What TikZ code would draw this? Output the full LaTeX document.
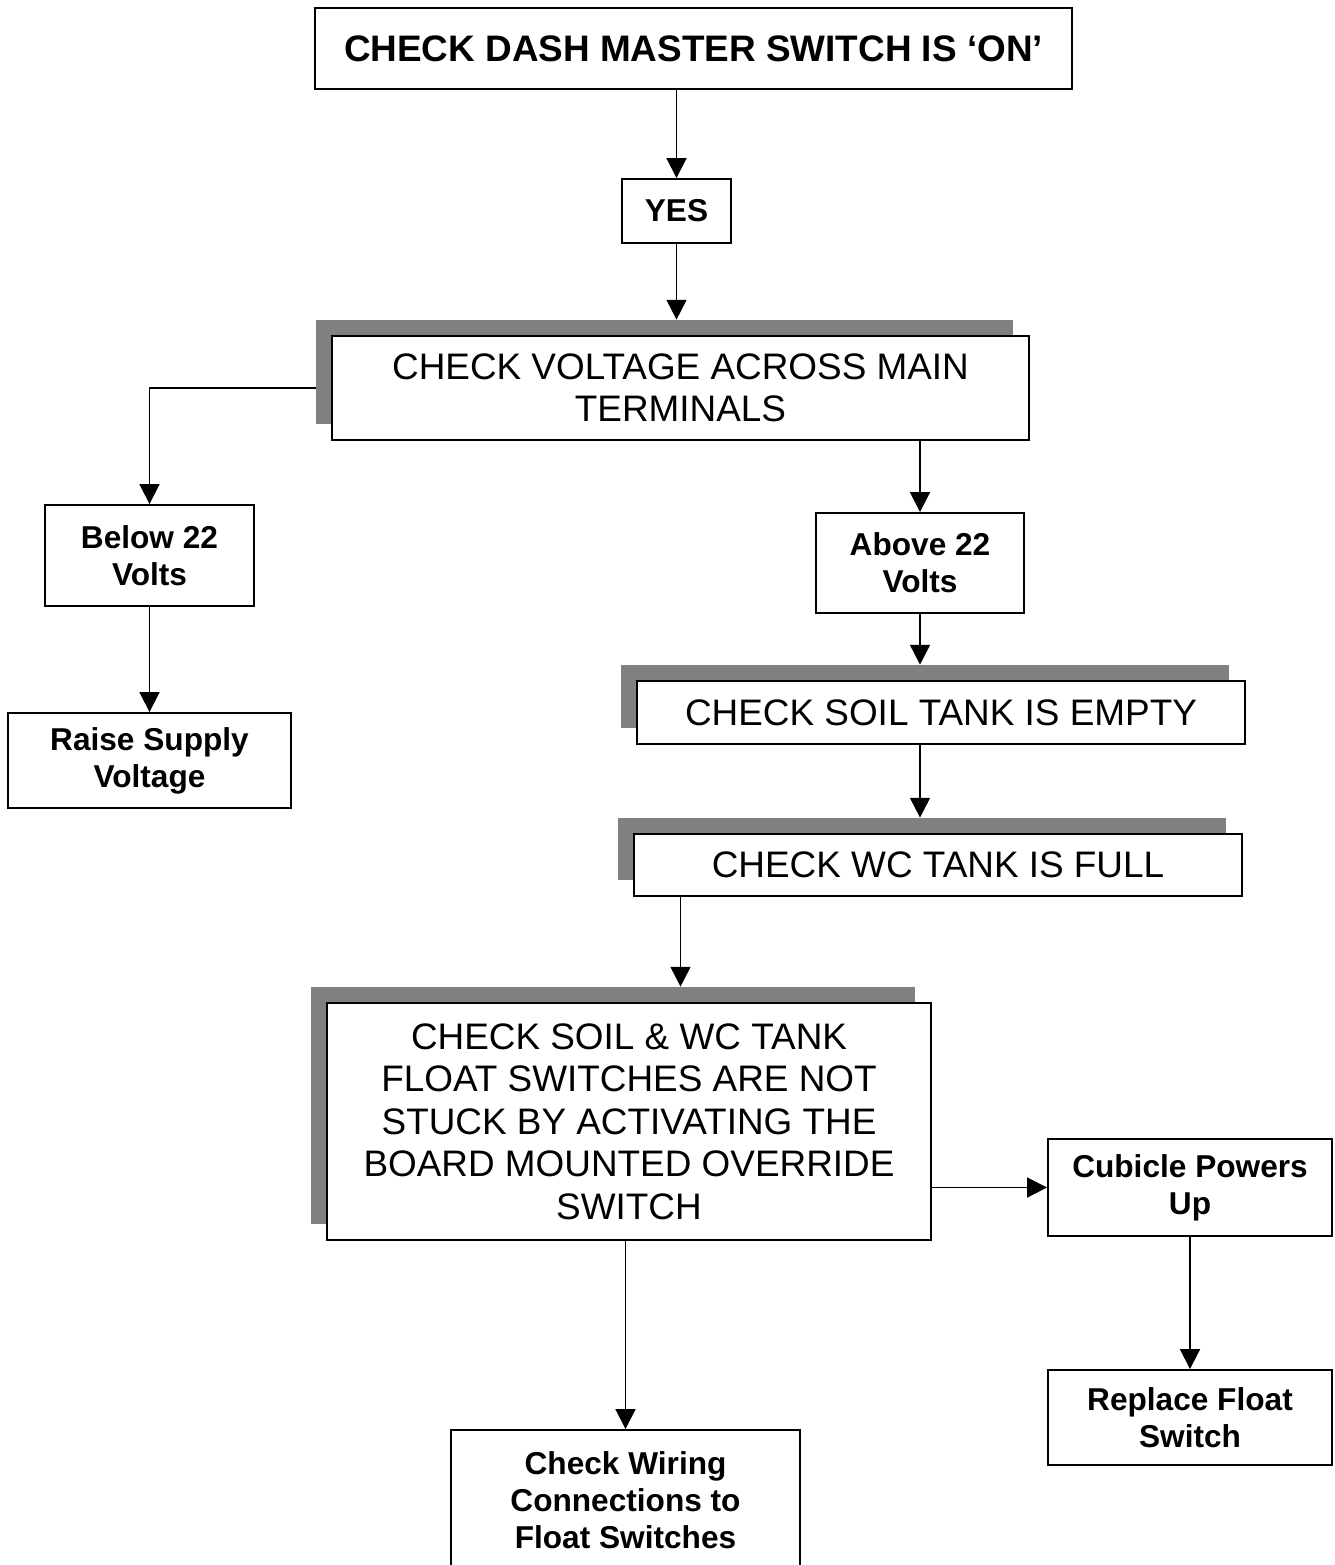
\documentclass[tikz,border=0pt]{standalone}
\usepackage{fontspec}
\setmainfont{Liberation Sans}
\usetikzlibrary{arrows.meta, positioning, backgrounds}
\tikzset{
  box/.style={
    rectangle, draw=black, fill=white,
    line width=1.1pt, inner sep=0pt,
    align=center, font=\fontsize{18}{21}\selectfont\bfseries,
  },
  bigbox/.style={box, font=\fontsize{21}{24.2}\selectfont},
  shadowbox/.style={rectangle, fill=black!50, inner sep=0pt},
  boxsize/.style 2 args={minimum width=#1*0.02cm, minimum height=#2*0.02cm},
  arrow/.style={-{Triangle[length=11.3pt, width=11.3pt]}, line width=1.1pt},
}

\begin{document}
\begin{tikzpicture}[x=0.02cm, y=-0.02cm]
  \useasboundingbox (0,0) rectangle (1335,1565);

  % Main column
  \node[box, boxsize={757}{81}, font=\fontsize{21}{24.2}\selectfont\bfseries]
    (top) at (693.5,48.5) {CHECK DASH MASTER SWITCH IS ‘ON’};
  \node[box, boxsize={109}{64}] (yes) at (676.5,211) {YES};
  \node[bigbox, boxsize={697}{104}] (volt) at (680.5,388)
    {CHECK VOLTAGE ACROSS MAIN\\TERMINALS};

  % Left branch
  \node[box, boxsize={209}{101}] (below) at (149.5,555.5) {Below 22\\Volts};
  \node[box, boxsize={283}{95}]  (raise) at (149.5,760.5) {Raise Supply\\Voltage};

  % Right branch
  \node[box, boxsize={208}{100}] (above) at (920,563) {Above 22\\Volts};
  \node[bigbox, boxsize={608}{63}] (soil) at (941,712.5) {CHECK SOIL TANK IS EMPTY};
  \node[bigbox, boxsize={608}{62}] (wc)   at (938,865) {CHECK WC TANK IS FULL};
  \node[bigbox, boxsize={604}{237}] (float) at (629,1121.5)
    {CHECK SOIL \& WC TANK\\FLOAT SWITCHES ARE NOT\\STUCK BY ACTIVATING THE\\BOARD MOUNTED OVERRIDE\\SWITCH};
  \node[box, boxsize={284}{97}]  (cubicle) at (1190,1187.5) {Cubicle Powers\\Up};
  \node[box, boxsize={284}{95}]  (replace) at (1190,1417.5) {Replace Float\\Switch};
  \node[box, boxsize={349}{140}] (wiring)  at (625.5,1500)
    {Check Wiring\\Connections to\\Float Switches};

  % Grey shadows behind the big boxes
  \begin{scope}[on background layer]
    \foreach \n/\w/\h in {volt/697/104, soil/608/63, wc/608/62, float/604/237}
      \node[shadowbox, boxsize={\w}{\h}] (\n-sh) at ([shift={(-16,-16)}]\n.center) {};
  \end{scope}

  % Arrows
  \draw[arrow] (yes |- top.south) -- (yes.north);
  \draw[arrow] (yes.south) -- (yes.south |- volt-sh.north);
  \draw[arrow] (volt-sh.west |- volt) -| (below.north);
  \draw[arrow] (volt.south -| above) -- (above.north);
  \draw[arrow] (below.south) -- (raise.north);
  \draw[arrow] (above.south) -- (above.south |- soil-sh.north);
  \draw[arrow] (soil.south -| above) -- (above |- wc-sh.north);
  \draw[arrow] (wc.south -| volt) -- (volt |- float-sh.north);
  \draw[arrow] (float.east |- cubicle) -- (cubicle.west);
  \draw[arrow] (float.south -| wiring) -- (wiring.north);
  \draw[arrow] (cubicle.south) -- (replace.north);

\end{tikzpicture}
\end{document}
